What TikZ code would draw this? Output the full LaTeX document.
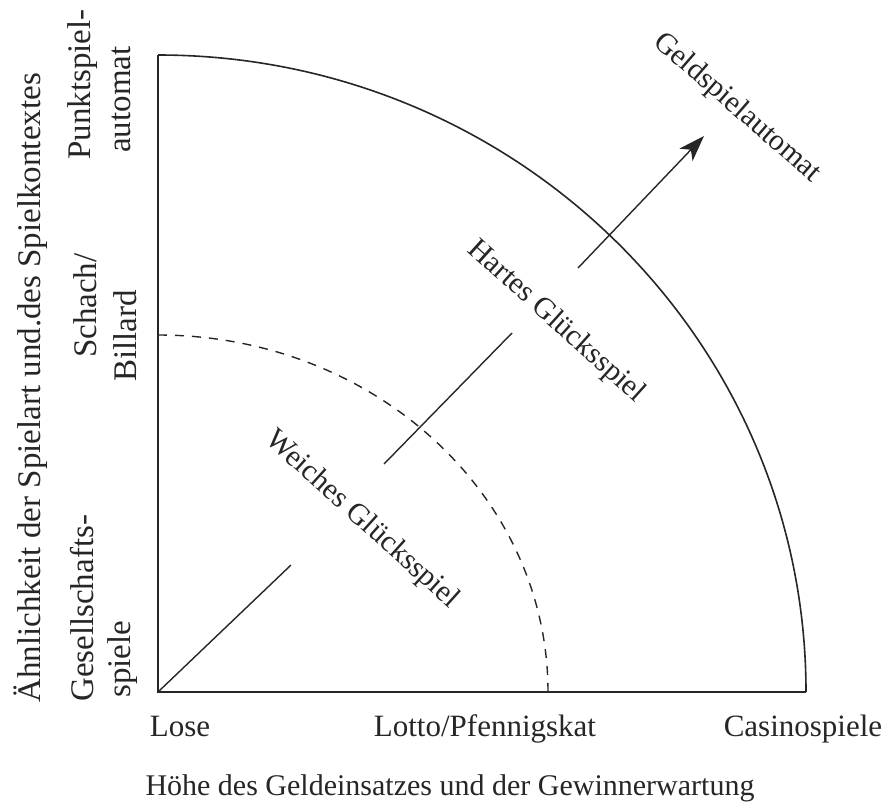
\documentclass[tikz,border=0pt]{standalone}
\usepackage{fontspec}
\setmainfont{Liberation Serif}
\usetikzlibrary{arrows.meta}
\begin{document}
\begin{tikzpicture}[x=1pt,y=-1pt,
  axisline/.style={line width=1.6pt, black!85},
  ray/.style={line width=1.4pt, black!85},
  dashline/.style={line width=1.4pt, black!85, dash pattern=on 9pt off 8pt},
  lbl/.style={font=\fontsize{31}{36}\selectfont, inner sep=0pt, anchor=base, text=black!85},
  vlbl/.style={font=\fontsize{33}{38}\selectfont, inner sep=0pt, rotate=90, anchor=base west, text=black!85},
  dlbl/.style={font=\fontsize{30}{34}\selectfont, inner sep=0pt, rotate=-42, text=black!85},
]
\useasboundingbox (0,0) rectangle (895,807);
% frame points
\coordinate (O) at (158,692);
\coordinate (T) at (158,55);
\coordinate (R) at (806,692);
\coordinate (DT) at (158,335);
% rays
\coordinate (s1b) at (291,565);
\coordinate (s2a) at (384,464);
\coordinate (s2b) at (512,333);
\coordinate (s3a) at (578,268);
\coordinate (s3b) at (704,136);

\draw[axisline] (R) -- (O) -- (T);
\draw[axisline] (T) arc[start angle=90, end angle=0, x radius=648pt, y radius=637pt];
\draw[dashline] (DT) arc[start angle=90, end angle=0, x radius=390pt, y radius=357pt];

\draw[ray] (O) -- (s1b);
\draw[ray] (s2a) -- (s2b);
\draw[ray, -{Stealth[length=26pt, width=18pt, inset=7pt]}] (s3a) -- (s3b);

% bottom labels
\node[lbl] (lose) at (180,736) {Lose};
\node[lbl] (lotto) at (485,736) {Lotto/Pfennigskat};
\node[lbl] (casino) at (803,736) {Casinospiele};
\node[lbl, font=\fontsize{30}{36}\selectfont] (xlab) at (450,795) {Höhe des Geldeinsatzes und der Gewinnerwartung};

% left labels
\node[vlbl] (ylab) at (40,703) {Ähnlichkeit der Spielart und.des Spielkontextes};
\node[vlbl] (pa1) at (90,160) {Punktspiel-};
\node[vlbl] (pa2) at (130,153) {automat};
\node[vlbl] (sb1) at (96,358) {Schach/};
\node[vlbl] (sb2) at (136,382) {Billard};
\node[vlbl] (gs1) at (93,702) {Gesellschafts-};
\node[vlbl] (gs2) at (130,698) {spiele};

% diagonal labels
\node[dlbl] (weich) at (362,520) {Weiches Glücksspiel};
\node[dlbl] (hart) at (556,322) {Hartes Glücksspiel};
\node[dlbl, rotate=1] (geld) at (737,108) {Geldspielautomat};
\end{tikzpicture}
\end{document}
